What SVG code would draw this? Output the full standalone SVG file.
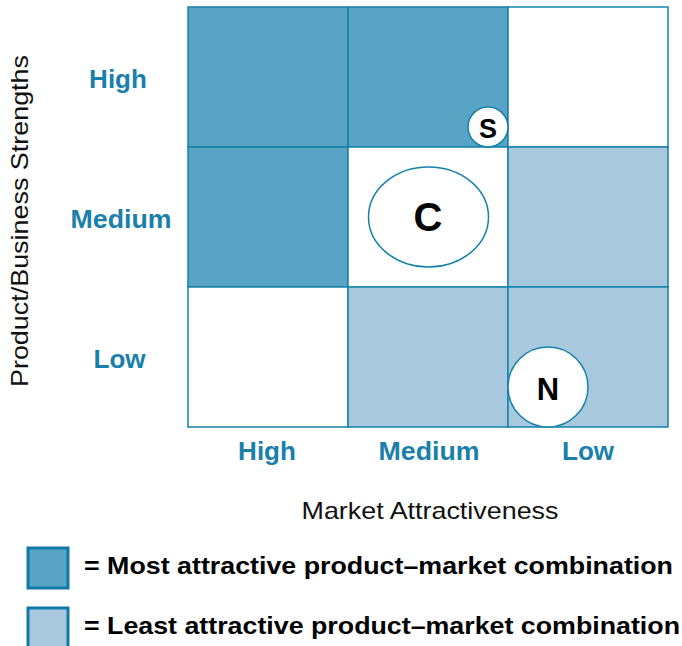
<svg xmlns="http://www.w3.org/2000/svg" width="682" height="646" viewBox="0 0 682 646">
<style>
.cell{stroke:#1582ab;stroke-width:1.5}
.dark{fill:#59a3c4}
.light{fill:#a8c9dd}
.white{fill:#ffffff}
.lbl{font-family:"Liberation Sans",Arial,sans-serif;font-weight:bold;font-size:26px;fill:#1a80ab;text-anchor:middle}
.axis{font-family:"Liberation Sans",Arial,sans-serif;font-size:24px;fill:#111;text-anchor:middle}
.mark{fill:#fff;stroke:#1582ab;stroke-width:1.5}
.mt{font-family:"Liberation Sans",Arial,sans-serif;font-weight:bold;fill:#000;text-anchor:middle}
.leg{font-family:"Liberation Sans",Arial,sans-serif;font-weight:bold;font-size:24px;fill:#000}
</style>
<rect width="682" height="646" fill="#fff"/>
<g id="grid">
<rect class="cell dark" x="188" y="7" width="160" height="140"/>
<rect class="cell dark" x="348" y="7" width="160" height="140"/>
<rect class="cell white" x="508" y="7" width="160" height="140"/>
<rect class="cell dark" x="188" y="147" width="160" height="140"/>
<rect class="cell white" x="348" y="147" width="160" height="140"/>
<rect class="cell light" x="508" y="147" width="160" height="140"/>
<rect class="cell white" x="188" y="287" width="160" height="140"/>
<rect class="cell light" x="348" y="287" width="160" height="140"/>
<rect class="cell light" x="508" y="287" width="160" height="140"/>
</g>
<g id="row-labels">
<text class="lbl" x="118" y="88">High</text>
<text class="lbl" x="121" y="228" textLength="101" lengthAdjust="spacingAndGlyphs">Medium</text>
<text class="lbl" x="119.5" y="368">Low</text>
</g>
<g id="col-labels">
<text class="lbl" x="267" y="460">High</text>
<text class="lbl" x="429" y="460" textLength="101" lengthAdjust="spacingAndGlyphs">Medium</text>
<text class="lbl" x="588" y="460">Low</text>
</g>
<text class="axis" x="430" y="519" textLength="257" lengthAdjust="spacingAndGlyphs">Market Attractiveness</text>
<text class="axis" transform="translate(28,221) rotate(-90)" textLength="332" lengthAdjust="spacingAndGlyphs">Product/Business Strengths</text>
<g id="node-S">
<circle class="mark" cx="488" cy="127" r="20"/>
<text class="mt" x="488" y="137.5" font-size="27">S</text>
</g>
<g id="node-C">
<ellipse class="mark" cx="428.5" cy="217" rx="60" ry="50"/>
<text class="mt" x="428" y="231" font-size="40">C</text>
</g>
<g id="node-N">
<circle class="mark" cx="548" cy="387" r="40"/>
<text class="mt" x="548" y="400" font-size="31">N</text>
</g>
<g id="connectors"></g>
<g id="legend">
<rect x="28" y="548" width="40" height="40" fill="#59a3c4" stroke="#0e7aa5" stroke-width="3"/>
<text class="leg" x="84" y="574" textLength="589" lengthAdjust="spacingAndGlyphs">= Most attractive product–market combination</text>
<rect x="28" y="608" width="40" height="40" fill="#a8c9dd" stroke="#0e7aa5" stroke-width="3"/>
<text class="leg" x="84" y="634" textLength="596" lengthAdjust="spacingAndGlyphs">= Least attractive product–market combination</text>
</g>
</svg>
